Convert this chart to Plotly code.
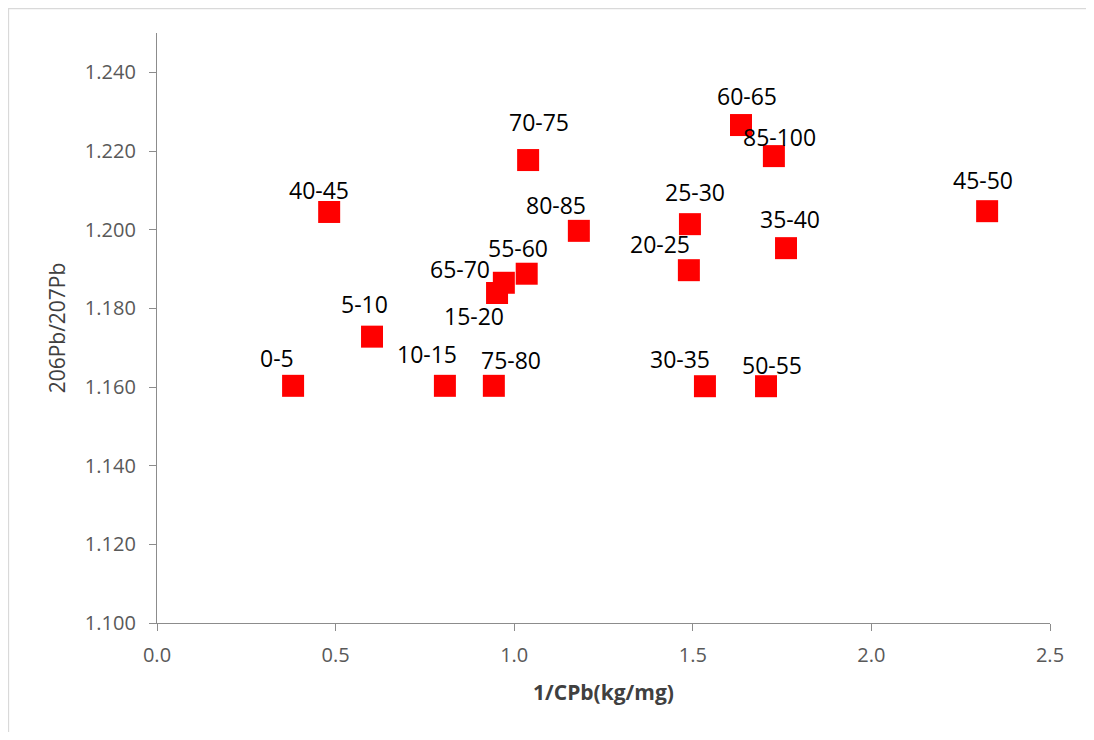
import plotly.graph_objects as go

# Data
labels = ["0-5", "5-10", "10-15", "15-20", "20-25", "25-30", "30-35", "35-40",
          "40-45", "45-50", "50-55", "55-60", "60-65", "65-70", "70-75", "75-80",
          "80-85", "85-100"]
inv_cpb = [0.381, 0.602, 0.806, 0.952, 1.489, 1.492, 1.534, 1.761,
           0.482, 2.324, 1.705, 1.035, 1.635, 0.971, 1.039, 0.943,
           1.181, 1.727]
ratio = [1.1603, 1.1728, 1.1603, 1.1839, 1.1897, 1.2014, 1.1602, 1.1953,
         1.2045, 1.2047, 1.1602, 1.1888, 1.2266, 1.1865, 1.2177, 1.1603,
         1.1997, 1.2187]
y_ticks = [1.10, 1.12, 1.14, 1.16, 1.18, 1.20, 1.22, 1.24]

# Label pixel offsets (layout only)
label_dx = [-16, -8, -18, -23, -29, 5, -25, 4, -10, -4, 6, -9, 6, -44, 11, 17, -23, 6]
label_dy = [-28, -33, -32, 23, -26, -32, -27, -29, -22, -31, -21, -26, -29, -14, -38, -26, -26, -19]

FONT = "'Open Sans', sans-serif"

fig = go.Figure()
fig.add_trace(go.Scatter(
    x=inv_cpb, y=ratio, mode="markers",
    marker=dict(symbol="square", size=22, color="#FF0000", line=dict(width=0)),
    showlegend=False, hoverinfo="x+y",
))

for lab, xv, yv, dx, dy in zip(labels, inv_cpb, ratio, label_dx, label_dy):
    fig.add_annotation(x=xv, y=yv, text=lab, showarrow=False,
                       xshift=dx, yshift=-dy,
                       font=dict(family=FONT, size=23, color="#000000"))

axis_common = dict(
    showgrid=False, zeroline=False, showline=True, linecolor="#8C8C8C", linewidth=1.3,
    ticks="outside", ticklen=7, tickcolor="#8C8C8C", tickwidth=1.3,
    tickfont=dict(family=FONT, size=20, color="#595959"),
)

fig.update_layout(
    width=1078, height=724,
    paper_bgcolor="white", plot_bgcolor="white",
    margin=dict(l=149, r=36, t=25, b=109),
    xaxis=dict(range=[0, 2.5], dtick=0.5, tickformat=".1f", ticklabelstandoff=7,
               title=dict(text="<b>1/CPb(kg/mg)</b>", standoff=18,
                          font=dict(family=FONT, size=21, color="#404040")),
               **axis_common),
    yaxis=dict(range=[1.1, 1.25], tickvals=y_ticks, tickformat=".3f", ticklabelstandoff=9,
               title=dict(text="206Pb/207Pb", standoff=13,
                          font=dict(family=FONT, size=21, color="#404040")),
               **axis_common),
    shapes=[dict(type="rect", xref="paper", yref="paper",
                 x0=-0.1663, x1=1.2, y0=-0.4, y1=1.0415,
                 line=dict(color="#D9D9D9", width=1.3), fillcolor="rgba(0,0,0,0)")],
)

fig.write_html("out.html")
